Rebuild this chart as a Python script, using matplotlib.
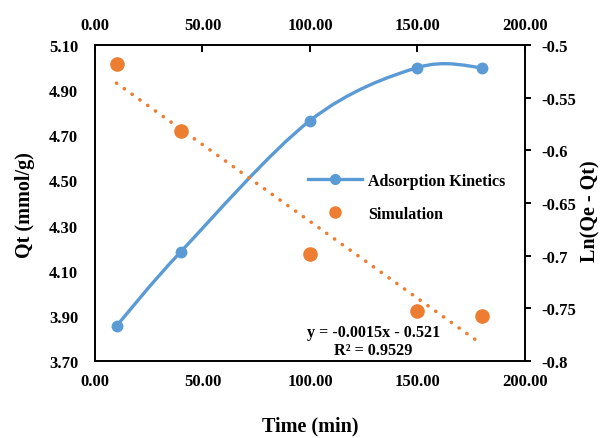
import matplotlib
matplotlib.use('Agg')
import matplotlib.pyplot as plt
import numpy as np
from matplotlib.path import Path
from matplotlib.patches import PathPatch
from matplotlib.lines import Line2D

# Times-like bold text everywhere
plt.rcParams['font.family'] = 'Liberation Serif'
plt.rcParams['font.weight'] = 'bold'

# data
time_min = [10, 40, 100, 150, 180]
qt = [3.855, 4.185, 4.765, 5.00, 5.00]
ln_qe_qt = [-0.518, -0.5817, -0.6985, -0.7526, -0.7574]

x_ticks = [0, 50, 100, 150, 200]
qt_ticks = [3.70, 3.90, 4.10, 4.30, 4.50, 4.70, 4.90, 5.10]
ln_ticks = [-0.8, -0.75, -0.7, -0.65, -0.6, -0.55, -0.5]

blue = '#5B9BD5'
orange = '#ED7D31'
tick_fs = 12


def smooth_path(xs, ys):
    # Excel-style smoothed line: cubic bezier through the points
    pts = np.column_stack([xs, ys]).astype(float)
    n = len(pts)
    verts = [pts[0]]
    codes = [Path.MOVETO]
    for i in range(n - 1):
        p_prev = pts[i - 1] if i > 0 else pts[i]
        p_next2 = pts[i + 2] if i + 2 < n else pts[i + 1]
        c1 = pts[i] + (pts[i + 1] - p_prev) / 6
        c2 = pts[i + 1] - (p_next2 - pts[i]) / 6
        verts += [c1, c2, pts[i + 1]]
        codes += [Path.CURVE4] * 3
    return Path(verts, codes)


fig = plt.figure(figsize=(6.09, 4.39), dpi=100)
rect = [0.156, 0.1754, 0.706, 0.7198]
ax = fig.add_axes(rect)
ax2 = fig.add_axes(rect, frameon=False)

# primary: adsorption kinetics
ax.add_patch(PathPatch(smooth_path(time_min, qt), facecolor='none',
                       edgecolor=blue, lw=2.4, capstyle='round', zorder=2))
ax.plot(time_min, qt, 'o', color=blue, markersize=7.5, zorder=3)
ax.set_xlim(0, 200)
ax.set_ylim(3.70, 5.10)
ax.set_xticks(x_ticks)
ax.set_xticklabels(['{:.2f}'.format(v) for v in x_ticks])
ax.set_yticks(qt_ticks)
ax.set_yticklabels(['{:.2f}'.format(v) for v in qt_ticks])
ax.tick_params(axis='x', length=0, labelsize=tick_fs, pad=9)
ax.tick_params(axis='y', length=0, labelsize=tick_fs, pad=12)
for s in ax.spines.values():
    s.set_linewidth(1.4)

# secondary: simulation + linear trendline
ax2.plot(time_min, ln_qe_qt, 'o', color=orange, markersize=9.5, zorder=3)
slope, intercept = np.polyfit(time_min, ln_qe_qt, 1)
xt = np.array([time_min[0], time_min[-1]])
ax2.plot(xt, slope * xt + intercept, color=orange, lw=2.6,
         linestyle=(0, (0.05, 2.6)), dash_capstyle='round', zorder=2)
ax2.set_xlim(0, 200)
ax2.set_ylim(-0.8, -0.5)
ax2.xaxis.tick_top()
ax2.yaxis.tick_right()
ax2.set_xticks(x_ticks)
ax2.set_xticklabels(['{:.2f}'.format(v) for v in x_ticks])
ax2.set_yticks(ln_ticks)
ax2.set_yticklabels(['{:g}'.format(v) for v in ln_ticks])
ax2.tick_params(axis='x', direction='in', length=5, width=1.4,
                labelsize=tick_fs, pad=9)
ax2.tick_params(axis='y', direction='out', length=4.5, width=1.4,
                labelsize=tick_fs, pad=7)

# axis titles
fig.text(310 / 609, 1 - 426 / 439, 'Time (min)', ha='center', va='center',
         fontsize=14.5, fontweight='bold')
fig.text(25 / 609, 1 - 205 / 439, 'Qt (mmol/g)', ha='center', va='center',
         rotation=90, fontsize=14.5, fontweight='bold')
fig.text(590 / 609, 1 - 211 / 439, 'Ln(Qe - Qt)', ha='center', va='center',
         rotation=90, fontsize=14.5, fontweight='bold')

# trendline equation
ax2.text(374 / 609, 1 - 333 / 439, 'y = -0.0015x - 0.521', transform=fig.transFigure,
         ha='center', va='center', fontsize=11.6, fontweight='bold')
ax2.text(373 / 609, 1 - 351 / 439, 'R² = 0.9529', transform=fig.transFigure,
         ha='center', va='center', fontsize=11.6, fontweight='bold')

# legend
handles = [Line2D([], [], color=blue, lw=2.4, marker='o', markersize=7),
           Line2D([], [], color=orange, lw=0, marker='o', markersize=8)]
ax2.legend(handles, ['Adsorption Kinetics', 'Simulation'], frameon=False,
           loc='upper left', bbox_to_anchor=(308 / 609, 1 - 174 / 439),
           bbox_transform=fig.transFigure, handlelength=3.4,
           handletextpad=0.35, labelspacing=1.05, borderpad=0, borderaxespad=0,
           prop={'weight': 'bold', 'size': 11.5})

fig.savefig('out.png', dpi=100)
